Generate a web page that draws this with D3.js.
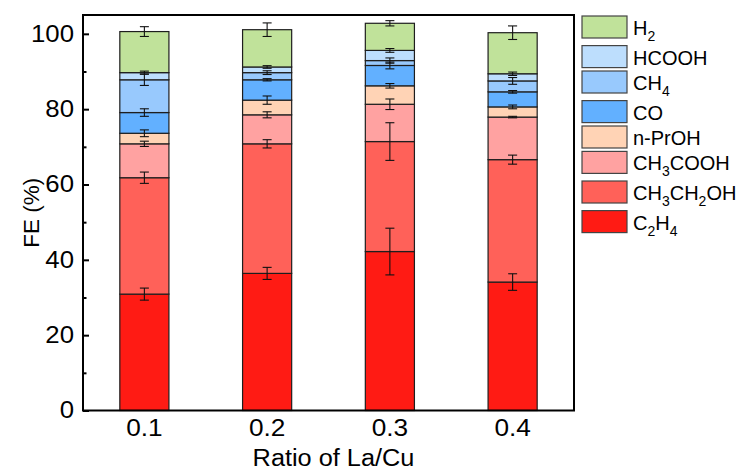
<!DOCTYPE html>
<html>
<head>
<meta charset="utf-8">
<script src="https://cdn.jsdelivr.net/npm/d3@7"></script>
<style>
  html, body { margin: 0; padding: 0; background: #fff; }
  svg text { font-family: "Liberation Sans", Arial, sans-serif; fill: #000; }
</style>
</head>
<body>
<svg id="chart" width="743" height="472"></svg>
<script>
// La/Cu ratios on the x axis
const categories = ["0.1", "0.2", "0.3", "0.4"];

// Faradaic efficiency (%) of each product, stacked bottom to top
const C2H4     = [30.9, 36.4, 42.2, 34.1];
const CH3CH2OH = [30.9, 34.4, 29.2, 32.5];
const CH3COOH  = [9.0, 7.7, 9.9, 11.3];
const nPrOH    = [2.8, 3.9, 4.9, 2.7];
const CO       = [5.5, 5.4, 5.4, 4.0];
const CH4      = [8.7, 1.9, 1.3, 2.9];
const HCOOH    = [1.9, 1.5, 2.7, 1.9];
const H2       = [10.9, 9.9, 7.2, 10.9];

// Standard deviations, shown at the top of each segment
const C2H4_err     = [1.6, 1.6, 6.2, 2.2];
const CH3CH2OH_err = [1.5, 1.1, 5.0, 1.2];
const CH3COOH_err  = [0.7, 0.8, 1.4, 0.2];
const nPrOH_err    = [0.9, 1.1, 0.6, 0.5];
const CO_err       = [1.0, 0.3, 0.9, 0.35];
const CH4_err      = [1.5, 0.5, 0.7, 0.9];
const HCOOH_err    = [0.4, 0.35, 0.5, 0.45];
const H2_err       = [1.3, 1.8, 0.7, 1.8];

const yTicks = [0, 20, 40, 60, 80, 100];
const yMinorTicks = [10, 30, 50, 70, 90];

const series = [
  { key: "C2H4",     label: "C2H4",     values: C2H4,     err: C2H4_err,     color: "#ff1b14" },
  { key: "CH3CH2OH", label: "CH3CH2OH", values: CH3CH2OH, err: CH3CH2OH_err, color: "#ff6159" },
  { key: "CH3COOH",  label: "CH3COOH",  values: CH3COOH,  err: CH3COOH_err,  color: "#ffa2a1" },
  { key: "nPrOH",    label: "n-PrOH",   values: nPrOH,    err: nPrOH_err,    color: "#ffd3b5" },
  { key: "CO",       label: "CO",       values: CO,       err: CO_err,       color: "#62b0ff" },
  { key: "CH4",      label: "CH4",      values: CH4,      err: CH4_err,      color: "#98c9fd" },
  { key: "HCOOH",    label: "HCOOH",    values: HCOOH,    err: HCOOH_err,    color: "#bddefd" },
  { key: "H2",       label: "H2",       values: H2,       err: H2_err,       color: "#c0e29a" }
];

const svg = d3.select("#chart");
const plot = { left: 83, right: 574, top: 15, bottom: 410.5 };

const x = d3.scaleBand()
  .domain(categories)
  .range([plot.left, plot.right])
  .paddingInner(0.6)
  .paddingOuter(0.3);

const y = d3.scaleLinear()
  .domain([0, 105])
  .range([plot.bottom, plot.top]);

// Widen a text horizontally by factor k, keeping its anchor
function widen(sel, k) {
  sel.each(function () {
    const len = this.getComputedTextLength();
    d3.select(this).attr("textLength", len * k).attr("lengthAdjust", "spacingAndGlyphs");
  });
}

// Build stacked table
const table = categories.map((c, i) => {
  const row = { cat: c };
  series.forEach(s => { row[s.key] = s.values[i]; });
  return row;
});
const stacked = d3.stack().keys(series.map(s => s.key))(table);

// Bars
const g = svg.append("g");
stacked.forEach((layer, li) => {
  g.selectAll(null)
    .data(layer)
    .join("rect")
    .attr("x", d => x(d.data.cat))
    .attr("width", x.bandwidth())
    .attr("y", d => y(d[1]))
    .attr("height", d => y(d[0]) - y(d[1]))
    .attr("fill", series[li].color)
    .attr("stroke", "#1e1e1e")
    .attr("stroke-width", 1.2);
});

// Error bars
const capW = 4.5;
stacked.forEach((layer, li) => {
  const err = series[li].err;
  layer.forEach((d, i) => {
    const cx = x(d.data.cat) + x.bandwidth() / 2;
    const top = d[1];
    const e = err[i];
    const eg = g.append("g").attr("stroke", "#111").attr("stroke-width", 1.1);
    eg.append("line").attr("x1", cx).attr("x2", cx).attr("y1", y(top + e)).attr("y2", y(top - e));
    eg.append("line").attr("x1", cx - capW).attr("x2", cx + capW).attr("y1", y(top + e)).attr("y2", y(top + e));
    eg.append("line").attr("x1", cx - capW).attr("x2", cx + capW).attr("y1", y(top - e)).attr("y2", y(top - e));
  });
});

// Frame
svg.append("rect")
  .attr("x", plot.left).attr("y", plot.top)
  .attr("width", plot.right - plot.left)
  .attr("height", plot.bottom - plot.top)
  .attr("fill", "none")
  .attr("stroke", "#000")
  .attr("stroke-width", 2);

// Y axis (ticks pointing inward)
const yAxis = d3.axisLeft(y).tickValues(yTicks).tickSizeInner(-6).tickSizeOuter(0).tickPadding(9);
const yg = svg.append("g").attr("transform", `translate(${plot.left},0)`).call(yAxis);
yg.select(".domain").remove();
yg.selectAll(".tick line").attr("stroke", "#000").attr("stroke-width", 2);
yg.selectAll(".tick text").attr("font-size", 23).attr("font-family", "Liberation Sans, Arial, sans-serif");
widen(yg.selectAll(".tick text"), 1.12);
const yMinor = d3.axisLeft(y).tickValues(yMinorTicks).tickSizeInner(-3.5).tickSizeOuter(0).tickFormat("");
const ym = svg.append("g").attr("transform", `translate(${plot.left},0)`).call(yMinor);
ym.select(".domain").remove();
ym.selectAll(".tick line").attr("stroke", "#000").attr("stroke-width", 2);

// X axis labels
const xAxis = d3.axisBottom(x).tickSize(0).tickPadding(9);
const xg = svg.append("g").attr("transform", `translate(0,${plot.bottom})`).call(xAxis);
xg.select(".domain").remove();
xg.selectAll(".tick text").attr("font-size", 23).attr("font-family", "Liberation Sans, Arial, sans-serif");
widen(xg.selectAll(".tick text"), 1.14);

// Axis titles
const xTitle = svg.append("text")
  .attr("x", (plot.left + plot.right) / 2 + 5)
  .attr("y", 466)
  .attr("text-anchor", "middle")
  .attr("font-size", 23)
  .text("Ratio of La/Cu");
widen(xTitle, 1.1);

svg.append("text")
  .attr("transform", `translate(39,${(plot.top + plot.bottom) / 2}) rotate(-90)`)
  .attr("text-anchor", "middle")
  .attr("font-size", 22.5)
  .text("FE (%)");

// Legend, H2 at the top
function addChemLabel(sel, label) {
  const parts = label.split(/(\d+)/).filter(p => p.length);
  let afterSub = false;
  parts.forEach(p => {
    if (/^\d+$/.test(p)) {
      sel.append("tspan").attr("font-size", 14).attr("dy", 6).text(p);
      afterSub = true;
    } else {
      const t = sel.append("tspan").attr("font-size", 20).text(p);
      if (afterSub) t.attr("dy", -6);
      afterSub = false;
    }
  });
}
const legend = svg.append("g");
let ly = 16;
series.slice().reverse().forEach(s => {
  const hasSub = /\d/.test(s.label);
  legend.append("rect")
    .attr("x", 582).attr("y", ly)
    .attr("width", 45).attr("height", 22)
    .attr("fill", s.color)
    .attr("stroke", "#444")
    .attr("stroke-width", 1.2);
  const t = legend.append("text")
    .attr("x", 633).attr("y", ly + 19)
    .attr("font-size", 20);
  addChemLabel(t, s.label);
  ly += hasSub ? 29.6 : 25.4;
});
</script>
</body>
</html>
